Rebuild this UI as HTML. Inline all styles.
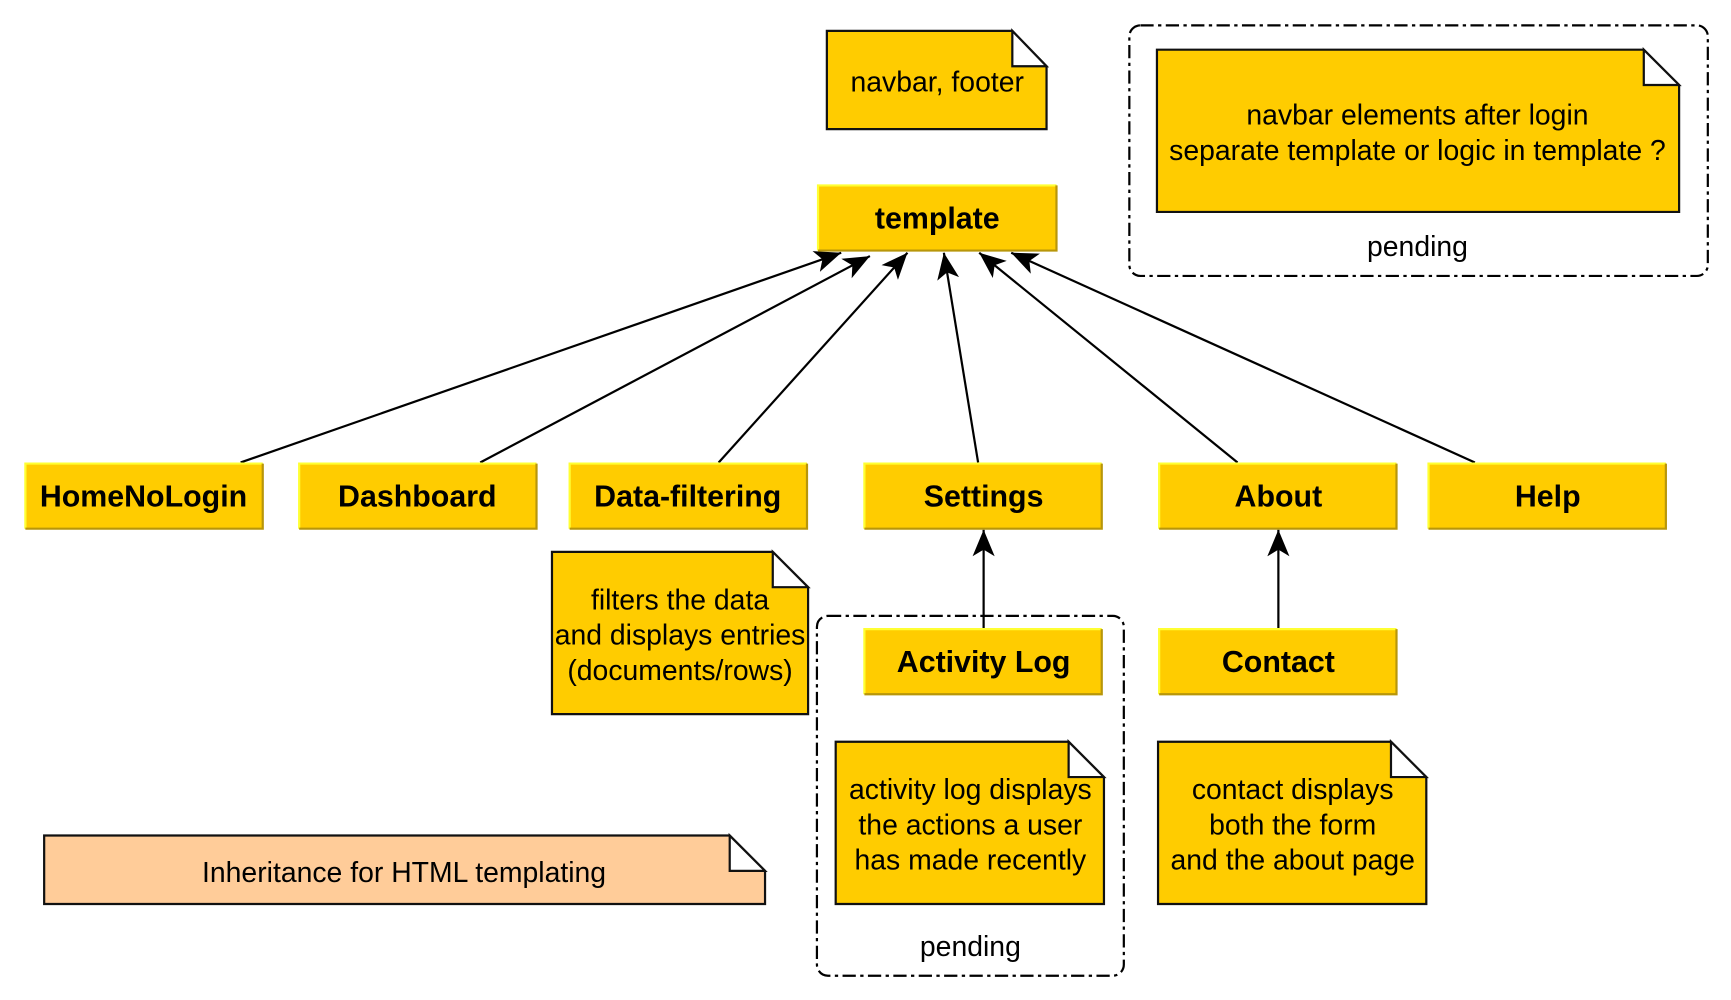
<!DOCTYPE html>
<html><head><meta charset="utf-8"><style>
html,body{margin:0;padding:0;background:#fff;}
svg{display:block;}
text{font-family:"Liberation Sans",Arial,sans-serif;fill:#000;}
.b{font-weight:bold;font-size:27.5px;}
.n{font-size:25.7px;}
</style></head><body>
<svg width="1731" height="1000" viewBox="0 0 1568 906" preserveAspectRatio="none" xmlns="http://www.w3.org/2000/svg">
<defs>
<marker id="a" markerWidth="30" markerHeight="30" refX="24" refY="10" orient="auto" markerUnits="userSpaceOnUse">
<path d="M24,10 L0,0 L6,10 L0,20 Z" fill="#000"/>
</marker>
</defs>

<rect x="1023" y="23" width="524" height="227" rx="10" fill="none" stroke="#000" stroke-width="2" stroke-dasharray="12,4,3,4"/>
<text class="n" x="1284" y="232" text-anchor="middle">pending</text>
<rect x="740" y="558" width="278" height="326" rx="10" fill="none" stroke="#000" stroke-width="2" stroke-dasharray="12,4,3,4"/>
<text class="n" x="879" y="866" text-anchor="middle">pending</text>

<g stroke="#000" stroke-width="2" fill="none" marker-end="url(#a)">
<line x1="218" y1="419" x2="762" y2="229"/>
<line x1="435" y1="419" x2="788" y2="232"/>
<line x1="651" y1="419" x2="822" y2="229"/>
<line x1="886" y1="419" x2="855" y2="229"/>
<line x1="1121" y1="419" x2="887" y2="229"/>
<line x1="1336" y1="419" x2="916" y2="229"/>
<line x1="891" y1="570" x2="891" y2="480"/>
<line x1="1158" y1="570" x2="1158" y2="480"/>
</g>

<g stroke="#111" stroke-width="2">
<path d="M749,28 H917 L948,60 V117 H749 Z" fill="#FFCC00"/>
<path d="M917,28 V60 H948 Z" fill="#fff"/>
<path d="M1048,45 H1489 L1521,77 V192 H1048 Z" fill="#FFCC00"/>
<path d="M1489,45 V77 H1521 Z" fill="#fff"/>
<path d="M500,500 H700 L732,532 V647 H500 Z" fill="#FFCC00"/>
<path d="M700,500 V532 H732 Z" fill="#fff"/>
<path d="M757,672 H968 L1000,704 V819 H757 Z" fill="#FFCC00"/>
<path d="M968,672 V704 H1000 Z" fill="#fff"/>
<path d="M1049,672 H1260 L1292,704 V819 H1049 Z" fill="#FFCC00"/>
<path d="M1260,672 V704 H1292 Z" fill="#fff"/>
<path d="M40,757 H661 L693,789 V819 H40 Z" fill="#FFCC99"/>
<path d="M661,757 V789 H693 Z" fill="#fff"/>
</g>
<text class="n" x="849" y="83" text-anchor="middle">navbar, footer</text>
<text class="n" x="1284" y="113" text-anchor="middle">navbar elements after login</text>
<text class="n" x="1284" y="145" text-anchor="middle">separate template or logic in template ?</text>
<text class="n" x="616" y="552" text-anchor="middle">filters the data</text>
<text class="n" x="616" y="584" text-anchor="middle">and displays entries</text>
<text class="n" x="616" y="616" text-anchor="middle">(documents/rows)</text>
<text class="n" x="879" y="724" text-anchor="middle">activity log displays</text>
<text class="n" x="879" y="756" text-anchor="middle">the actions a user</text>
<text class="n" x="879" y="788" text-anchor="middle">has made recently</text>
<text class="n" x="1171" y="724" text-anchor="middle">contact displays</text>
<text class="n" x="1171" y="756" text-anchor="middle">both the form</text>
<text class="n" x="1171" y="788" text-anchor="middle">and the about page</text>
<text class="n" x="366" y="799" text-anchor="middle">Inheritance for HTML templating</text>

<g>
<g transform="translate(741,168)"><rect width="216" height="59" fill="#FFCC00"/><path d="M0,59 V0 H216" stroke="#ffff33" stroke-width="2" fill="none"/><path d="M216,0 V59 H0" stroke="#b8960a" stroke-width="2" fill="none"/><text class="b" x="108" y="39" text-anchor="middle">template</text></g>
<g transform="translate(23,420)"><rect width="215" height="59" fill="#FFCC00"/><path d="M0,59 V0 H215" stroke="#ffff33" stroke-width="2" fill="none"/><path d="M215,0 V59 H0" stroke="#b8960a" stroke-width="2" fill="none"/><text class="b" x="107" y="39" text-anchor="middle">HomeNoLogin</text></g>
<g transform="translate(271,420)"><rect width="215" height="59" fill="#FFCC00"/><path d="M0,59 V0 H215" stroke="#ffff33" stroke-width="2" fill="none"/><path d="M215,0 V59 H0" stroke="#b8960a" stroke-width="2" fill="none"/><text class="b" x="107" y="39" text-anchor="middle">Dashboard</text></g>
<g transform="translate(516,420)"><rect width="215" height="59" fill="#FFCC00"/><path d="M0,59 V0 H215" stroke="#ffff33" stroke-width="2" fill="none"/><path d="M215,0 V59 H0" stroke="#b8960a" stroke-width="2" fill="none"/><text class="b" x="107" y="39" text-anchor="middle">Data-filtering</text></g>
<g transform="translate(783,420)"><rect width="215" height="59" fill="#FFCC00"/><path d="M0,59 V0 H215" stroke="#ffff33" stroke-width="2" fill="none"/><path d="M215,0 V59 H0" stroke="#b8960a" stroke-width="2" fill="none"/><text class="b" x="108" y="39" text-anchor="middle">Settings</text></g>
<g transform="translate(1050,420)"><rect width="215" height="59" fill="#FFCC00"/><path d="M0,59 V0 H215" stroke="#ffff33" stroke-width="2" fill="none"/><path d="M215,0 V59 H0" stroke="#b8960a" stroke-width="2" fill="none"/><text class="b" x="108" y="39" text-anchor="middle">About</text></g>
<g transform="translate(1294,420)"><rect width="215" height="59" fill="#FFCC00"/><path d="M0,59 V0 H215" stroke="#ffff33" stroke-width="2" fill="none"/><path d="M215,0 V59 H0" stroke="#b8960a" stroke-width="2" fill="none"/><text class="b" x="108" y="39" text-anchor="middle">Help</text></g>
<g transform="translate(783,570)"><rect width="215" height="59" fill="#FFCC00"/><path d="M0,59 V0 H215" stroke="#ffff33" stroke-width="2" fill="none"/><path d="M215,0 V59 H0" stroke="#b8960a" stroke-width="2" fill="none"/><text class="b" x="108" y="39" text-anchor="middle">Activity Log</text></g>
<g transform="translate(1050,570)"><rect width="215" height="59" fill="#FFCC00"/><path d="M0,59 V0 H215" stroke="#ffff33" stroke-width="2" fill="none"/><path d="M215,0 V59 H0" stroke="#b8960a" stroke-width="2" fill="none"/><text class="b" x="108" y="39" text-anchor="middle">Contact</text></g>
</g>
</svg>
</body></html>
